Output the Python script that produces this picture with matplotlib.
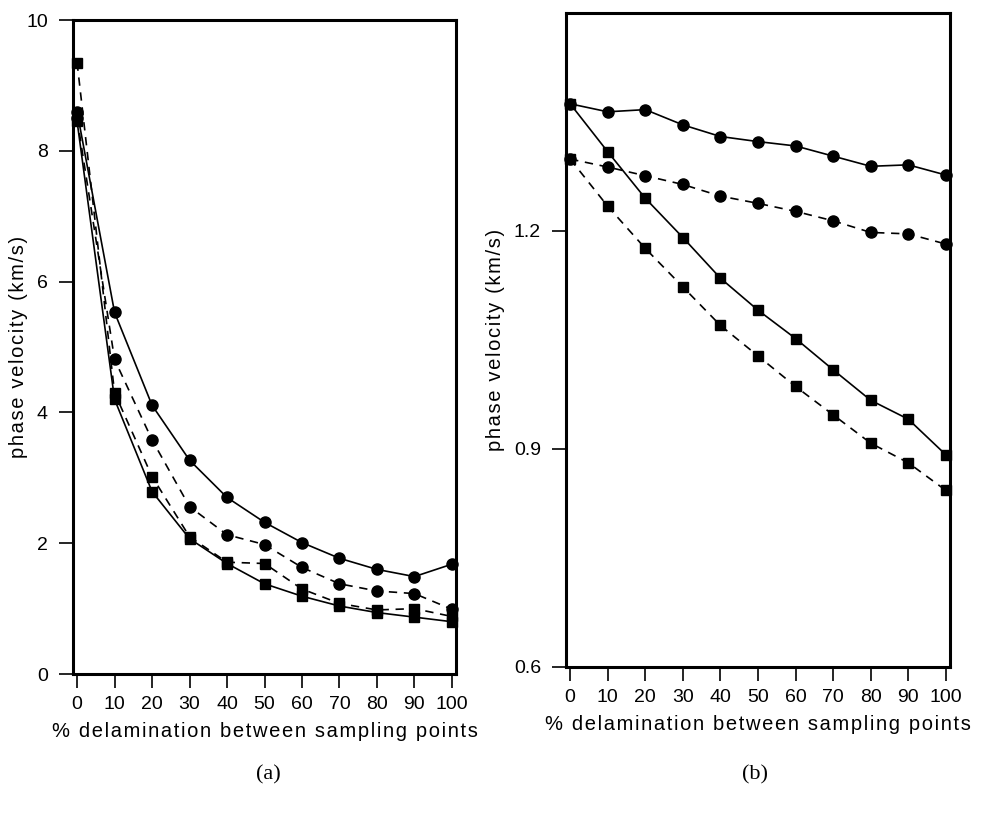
import matplotlib
matplotlib.use("Agg")
import matplotlib.pyplot as plt

plt.rcParams['font.family'] = ['Liberation Sans', 'DejaVu Sans']

# % delamination between sampling points
x = [0, 10, 20, 30, 40, 50, 60, 70, 80, 90, 100]

# panel (a): phase velocity (km/s)
a_circ_solid = [8.6, 5.53, 4.11, 3.27, 2.70, 2.32, 2.01, 1.77, 1.60, 1.49, 1.68]
a_circ_dash = [8.5, 4.81, 3.58, 2.56, 2.13, 1.98, 1.63, 1.38, 1.27, 1.23, 0.99]
a_sq_solid = [8.45, 4.20, 2.79, 2.07, 1.69, 1.38, 1.19, 1.04, 0.94, 0.87, 0.80]
a_sq_dash = [9.35, 4.30, 3.02, 2.10, 1.71, 1.69, 1.30, 1.08, 0.98, 1.00, 0.88]

# panel (b): phase velocity (km/s)
b_circ_solid = [1.375, 1.364, 1.367, 1.346, 1.330, 1.323, 1.317, 1.303, 1.289, 1.291, 1.277]
b_circ_dash = [1.299, 1.288, 1.276, 1.264, 1.248, 1.238, 1.227, 1.214, 1.198, 1.196, 1.182]
b_sq_solid = [1.375, 1.309, 1.245, 1.191, 1.135, 1.091, 1.052, 1.009, 0.967, 0.941, 0.892]
b_sq_dash = [1.299, 1.234, 1.176, 1.123, 1.070, 1.028, 0.986, 0.947, 0.908, 0.881, 0.843]

# the original lettering is widely spaced: put a hair space between letters
xlabel = '\u200a'.join('% delamination between sampling points')
ylabel = '\u200a'.join('phase velocity (km/s)')

fig = plt.figure(figsize=(9.82, 8.21), dpi=100)
ax1 = fig.add_axes([0.0743, 0.179, 0.3901, 0.7966])
ax2 = fig.add_axes([0.5764, 0.1876, 0.3910, 0.7966])

dash = (0, (5, 4))


def draw(ax, cs, cd, ss, sd):
    ax.plot(x, cs, color='black', lw=1.2, marker='o', ms=8, zorder=3, clip_on=False)
    ax.plot(x, cd, color='black', lw=1.2, ls=dash, marker='o', ms=8, zorder=3, clip_on=False)
    ax.plot(x, ss, color='black', lw=1.2, marker='s', ms=7.5, zorder=4, clip_on=False)
    ax.plot(x, sd, color='black', lw=1.2, ls=dash, marker='s', ms=7.5, zorder=4, clip_on=False)
    ax.set_xlim(-1.1, 101.1)
    ax.set_xticks(x)
    for s in ax.spines.values():
        s.set_linewidth(2.2)
    ax.tick_params(direction='out', length=10, width=1.2, labelsize=14, pad=6)
    ax.tick_params(axis='y', pad=8)
    ax.set_xlabel(xlabel, fontsize=14.5, labelpad=6)
    ax.set_ylabel(ylabel, fontsize=14.5)


draw(ax1, a_circ_solid, a_circ_dash, a_sq_solid, a_sq_dash)
ax1.set_ylim(0, 10)
ax1.set_yticks([0, 2, 4, 6, 8, 10])
ax1.yaxis.set_label_coords(-0.117, 0.5)

draw(ax2, b_circ_solid, b_circ_dash, b_sq_solid, b_sq_dash)
ax2.set_ylim(0.6, 1.5)
ax2.set_yticks([0.6, 0.9, 1.2])
ax2.set_yticklabels(['0.6', '0.9', '1.2'])
ax2.yaxis.set_label_coords(-0.16, 0.5)

fig.text(268 / 982, 1 - 775 / 821, '(a)', family='Liberation Serif', fontsize=16,
         ha='center', va='center')
fig.text(755 / 982, 1 - 775 / 821, '(b)', family='Liberation Serif', fontsize=16,
         ha='center', va='center')

fig.savefig('out.png', dpi=100)
